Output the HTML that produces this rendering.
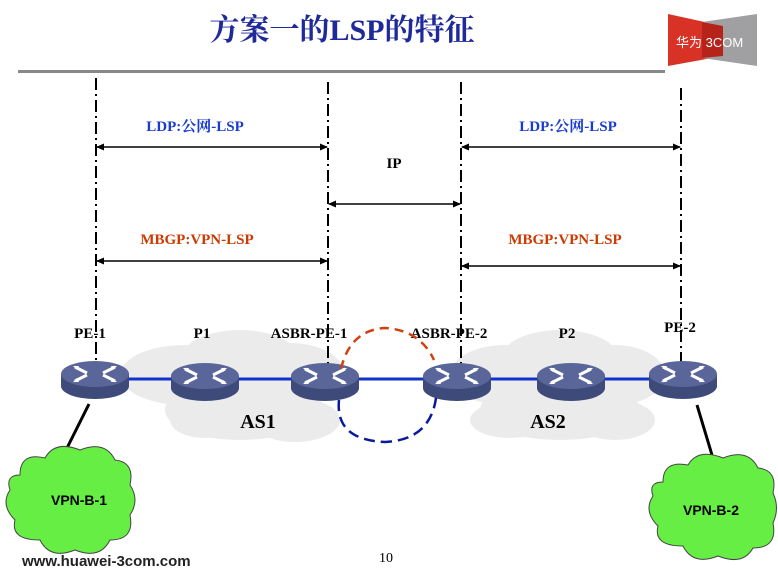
<!DOCTYPE html>
<html><head><meta charset="utf-8"><style>
html,body{margin:0;padding:0;background:#fff;width:778px;height:577px;overflow:hidden}
svg{display:block}
.t{font-family:"Liberation Serif","Noto Serif CJK SC",serif;font-weight:bold}
</style></head><body>
<svg width="778" height="577" viewBox="0 0 778 577" xmlns="http://www.w3.org/2000/svg">
<defs>
<g id="r">
<path d="M-34,0 L-34,12 A34,13 0 0 0 34,12 L34,0 Z" fill="#3d4a7a"/>
<ellipse cx="0" cy="0" rx="34" ry="13" fill="#5a6699"/>
<g stroke="#fff" stroke-width="3" fill="none">
<path d="M-20,-7 L-8,-1 M-20,7 L-8,1 M20,-7 L8,-1 M20,7 L8,1"/>
</g>
<path d="M-22,-8 l6,0 l-2,4 z M22,-8 l-6,0 l2,4 z M-22,8 l6,0 l-2,-4 z M22,8 l-6,0 l2,-4 z" fill="#fff"/>
</g>
<marker id="a" markerWidth="8" markerHeight="8" refX="7" refY="4" orient="auto-start-reverse" markerUnits="userSpaceOnUse"><path d="M0,0.5 L8,4 L0,7.5 z" fill="#000"/></marker>
</defs>
<text x="342" y="40" class="t" font-size="30" fill="#1f2a9a" text-anchor="middle">方案一的LSP的特征</text>
<rect x="18" y="70" width="647" height="3" fill="#888"/>
<polygon points="668,14 723,26 723,56 668,66" fill="#d83226"/>
<polygon points="702,22 757,14 757,66 702,58" fill="#a0a0a2"/>
<polygon points="702,22 723,26 723,56 702,58" fill="#b5231a"/>
<text x="676" y="47" font-family="'Liberation Sans','Noto Sans CJK SC',sans-serif" font-size="13" fill="#fff">华为 3COM</text>
<g fill="#ebebeb">
<ellipse cx="185" cy="375" rx="65" ry="30"/><ellipse cx="240" cy="360" rx="60" ry="30"/><ellipse cx="290" cy="375" rx="55" ry="32"/><ellipse cx="240" cy="410" rx="75" ry="30"/><ellipse cx="295" cy="420" rx="45" ry="22"/><ellipse cx="205" cy="420" rx="35" ry="18"/>
<ellipse cx="505" cy="375" rx="55" ry="30"/><ellipse cx="560" cy="360" rx="60" ry="30"/><ellipse cx="615" cy="375" rx="50" ry="30"/><ellipse cx="560" cy="410" rx="80" ry="30"/><ellipse cx="510" cy="420" rx="40" ry="18"/><ellipse cx="615" cy="420" rx="40" ry="20"/>
</g>
<g class="t" font-size="20" fill="#000" text-anchor="middle"><text x="258" y="428">AS1</text><text x="548" y="428">AS2</text></g>
<g stroke="#000" stroke-width="2" stroke-dasharray="12,4,2,4">
<line x1="96" y1="78" x2="96" y2="362"/><line x1="328" y1="82" x2="328" y2="368"/><line x1="461" y1="82" x2="461" y2="368"/><line x1="681" y1="88" x2="681" y2="362"/>
</g>
<g stroke="#000" stroke-width="1.5" marker-start="url(#a)" marker-end="url(#a)">
<line x1="97" y1="147" x2="327" y2="147"/><line x1="462" y1="147" x2="680" y2="147"/>
<line x1="329" y1="204" x2="460" y2="204"/>
<line x1="97" y1="261" x2="327" y2="261"/><line x1="462" y1="266" x2="680" y2="266"/>
</g>
<g class="t" font-size="15">
<text x="195" y="131" fill="#1a3bd1" text-anchor="middle">LDP:公网-LSP</text>
<text x="568" y="131" fill="#1a3bd1" text-anchor="middle">LDP:公网-LSP</text>
<text x="394" y="168" fill="#000" text-anchor="middle">IP</text>
<text x="197" y="244" fill="#cc3a00" text-anchor="middle">MBGP:VPN-LSP</text>
<text x="565" y="244" fill="#cc3a00" text-anchor="middle">MBGP:VPN-LSP</text>
</g>
<g class="t" font-size="15" fill="#000" text-anchor="middle">
<text x="90" y="338">PE-1</text><text x="202" y="338">P1</text><text x="309" y="338">ASBR-PE-1</text><text x="449" y="338">ASBR-PE-2</text><text x="567" y="338">P2</text><text x="680" y="332">PE-2</text>
</g>
<line x1="94" y1="379" x2="683" y2="379" stroke="#1133cc" stroke-width="3"/>
<line x1="89" y1="404" x2="67" y2="448" stroke="#000" stroke-width="3"/>
<line x1="697" y1="405" x2="712" y2="455" stroke="#000" stroke-width="3"/>
<use href="#r" x="95" y="374"/><use href="#r" x="205" y="376"/><use href="#r" x="325" y="376"/><use href="#r" x="457" y="376"/><use href="#r" x="571" y="376"/><use href="#r" x="683" y="374"/>
<path d="M341,369 Q350,330 385,328 Q420,330 434,360" fill="none" stroke="#d04010" stroke-width="2.5" stroke-dasharray="9,6"/>
<path d="M339,400 Q335,440 385,442 Q430,440 436,398" fill="none" stroke="#0a1a99" stroke-width="2.5" stroke-dasharray="11,6"/>
<g fill="#66ee44" stroke="#444" stroke-width="1">
<path d="M20,475 Q20,452 45,458 Q55,440 80,450 Q105,440 115,460 Q135,462 130,485 Q140,500 130,515 Q135,540 110,540 Q100,560 75,550 Q50,560 40,540 Q10,540 15,520 Q0,505 10,490 Q5,475 20,475 Z"/>
<path d="M663,482 Q663,460 688,465 Q698,448 723,458 Q748,448 758,468 Q778,470 773,493 Q780,508 773,523 Q778,548 753,548 Q743,566 718,556 Q693,566 683,546 Q653,546 658,526 Q643,511 653,496 Q648,482 663,482 Z"/>
</g>
<g font-family="'Liberation Sans',sans-serif" font-weight="bold" font-size="14" fill="#000" text-anchor="middle">
<text x="79" y="505">VPN-B-1</text><text x="711" y="515">VPN-B-2</text>
</g>
<text x="22" y="566" font-family="'Liberation Sans',sans-serif" font-weight="bold" font-size="15" fill="#222">www.huawei-3com.com</text>
<text x="386" y="562" font-family="'Liberation Serif',serif" font-size="14" fill="#000" text-anchor="middle">10</text>
</svg>
</body></html>
